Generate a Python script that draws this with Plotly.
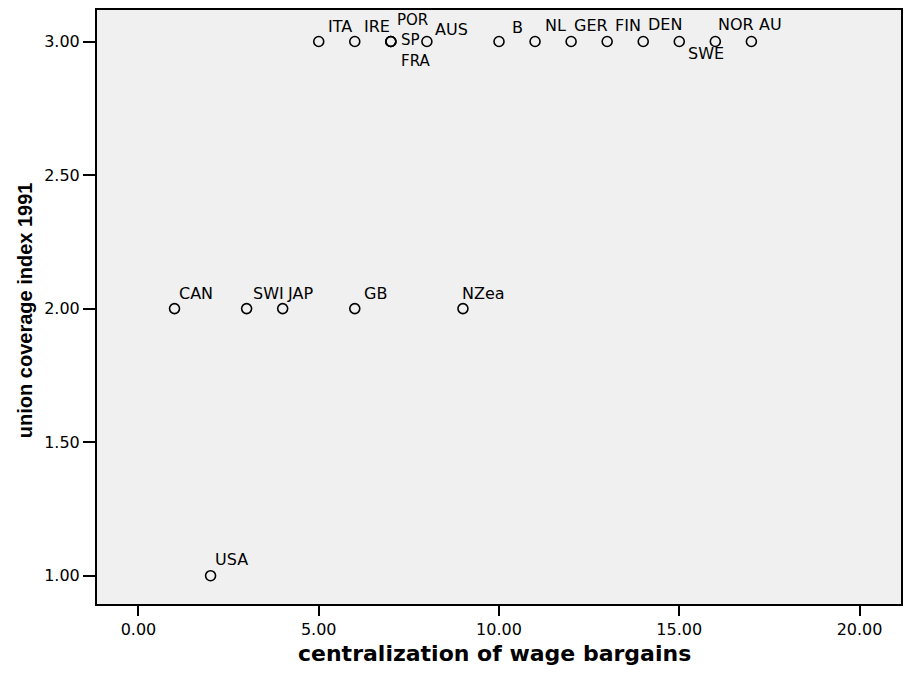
import plotly.graph_objects as go

# ---- data ----
countries = ["CAN", "USA", "SWI", "JAP", "ITA", "GB", "IRE", "POR", "SP", "FRA",
             "AUS", "NZea", "B", "NL", "GER", "FIN", "DEN", "SWE", "NOR", "AU"]
centralization = [1, 2, 3, 4, 5, 6, 6, 7, 7, 7, 8, 9, 10, 11, 12, 13, 14, 15, 16, 17]
coverage = [2, 1, 2, 2, 3, 2, 3, 3, 3, 3, 3, 2, 3, 3, 3, 3, 3, 3, 3, 3]
x_ticks = [0, 5, 10, 15, 20]
y_ticks = [1.0, 1.5, 2.0, 2.5, 3.0]

# label placement (pixel offsets from the point: right, up) and label sizes
label_dx = {"CAN": 3, "USA": 3.5, "SWI": 5, "JAP": 3.5, "ITA": 8, "GB": 8, "IRE": 8,
            "POR": 5, "SP": 9, "FRA": 9, "AUS": 7.3, "NZea": -1.5, "B": 11.7, "NL": 9.3,
            "GER": 2.3, "FIN": 7, "DEN": 3.3, "SWE": 8, "NOR": 2, "AU": 6.5}
label_dy = {"CAN": 15.5, "USA": 15.7, "SWI": 15.5, "JAP": 15.5, "ITA": 15, "GB": 15.5,
            "IRE": 15, "POR": 22, "SP": 1.5, "FRA": -19, "AUS": 12.2, "NZea": 15.5,
            "B": 13.7, "NL": 16.4, "GER": 16.4, "FIN": 16.4, "DEN": 17, "SWE": -12,
            "NOR": 17, "AU": 17}
label_size = {"POR": 15, "SP": 15, "FRA": 15}

fig = go.Figure()
fig.add_trace(go.Scatter(
    x=centralization, y=coverage, mode="markers",
    marker=dict(symbol="circle-open", size=10, color="black", line=dict(width=1.6, color="black")),
    hoverinfo="text", text=countries, showlegend=False,
))

for name, xv, yv in zip(countries, centralization, coverage):
    fig.add_annotation(x=xv, y=yv, xref="x", yref="y", text=name, showarrow=False,
                       xanchor="left", yanchor="middle", borderpad=0,
                       xshift=label_dx[name], yshift=label_dy[name],
                       font=dict(family="DejaVu Sans, Arial, sans-serif",
                                 size=label_size.get(name, 16), color="black"))

# axis titles
fig.add_annotation(xref="paper", yref="paper", x=0.495, y=-0.084, text="<b>centralization of wage bargains</b>",
                   showarrow=False, xanchor="center", yanchor="middle",
                   font=dict(family="DejaVu Sans, Arial, sans-serif", size=22, color="black"))
fig.add_annotation(xref="paper", yref="paper", x=-0.0893, y=0.495, text="<b>union coverage index 1991</b>",
                   showarrow=False, xanchor="center", yanchor="middle", textangle=-90,
                   font=dict(family="Liberation Sans, Arial, sans-serif", size=20, color="black"))

tick_font = dict(family="DejaVu Sans, Arial, sans-serif", size=16, color="black")
fig.update_xaxes(range=[-1.15, 21.15], tickvals=x_ticks, ticktext=[f"{v:.2f}" for v in x_ticks],
                 ticks="outside", ticklen=10, tickwidth=2, tickcolor="black",
                 showline=True, linewidth=2, linecolor="black", mirror=True,
                 showgrid=False, zeroline=False, tickfont=tick_font)
fig.update_yaxes(range=[0.894, 3.118], tickvals=y_ticks, ticktext=[f"{v:.2f}" for v in y_ticks],
                 ticks="outside", ticklen=12, tickwidth=2, tickcolor="black",
                 showline=True, linewidth=2, linecolor="black", mirror=True,
                 showgrid=False, zeroline=False, tickfont=tick_font)

fig.update_layout(width=907, height=675, margin=dict(l=97, r=4, t=10, b=71),
                  paper_bgcolor="white", plot_bgcolor="#f0f0f0", autosize=False)

fig.write_html("out.html", config={"displayModeBar": False},
               post_script="document.body.style.margin='0';")
